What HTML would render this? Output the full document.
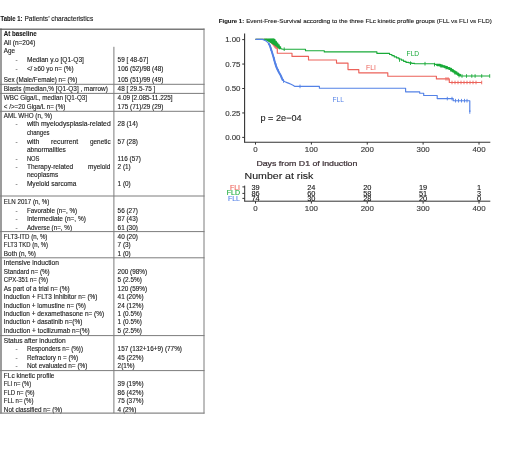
<!DOCTYPE html>
<html><head><meta charset="utf-8"><style>
html,body{margin:0;padding:0;background:#fff;}
body{width:520px;height:453px;overflow:hidden;}
svg{display:block;font-family:"Liberation Sans",sans-serif;will-change:transform;filter:blur(0.3px);}
</style></head><body>
<svg width="520" height="453" viewBox="0 0 520 453">
<text x="0.6" y="20.8" font-size="6.3" font-weight="bold" fill="#1a1a1a" stroke="#1a1a1a" stroke-width="0.12" textLength="21.8" lengthAdjust="spacingAndGlyphs">Table 1:</text>
<text x="24.4" y="20.8" font-size="6.3" fill="#1a1a1a" stroke="#1a1a1a" stroke-width="0.12" textLength="68.8" lengthAdjust="spacingAndGlyphs">Patients’ characteristics</text>
<text x="3.8" y="35.7" font-size="6.4" font-weight="bold" fill="#1a1a1a" stroke="#1a1a1a" stroke-width="0.12" textLength="32.8" lengthAdjust="spacingAndGlyphs">At baseline</text>
<text x="3.8" y="44.6" font-size="6.4" fill="#1a1a1a" stroke="#1a1a1a" stroke-width="0.12" textLength="31.5" lengthAdjust="spacingAndGlyphs">All (n=204)</text>
<text x="3.8" y="53.4" font-size="6.4" fill="#1a1a1a" stroke="#1a1a1a" stroke-width="0.12" textLength="11.2" lengthAdjust="spacingAndGlyphs">Age</text>
<text x="16.6" y="62.2" font-size="6.4" fill="#555" stroke="#555" stroke-width="0.12" text-anchor="middle" textLength="2.13" lengthAdjust="spacingAndGlyphs">-</text>
<text x="26.9" y="62.4" font-size="6.4" fill="#1a1a1a" stroke="#1a1a1a" stroke-width="0.12" textLength="57.0" lengthAdjust="spacingAndGlyphs">Median y.o [Q1-Q3]</text>
<text x="117.6" y="62.4" font-size="6.4" fill="#1a1a1a" stroke="#1a1a1a" stroke-width="0.12" textLength="30.6" lengthAdjust="spacingAndGlyphs">59 [ 48-67]</text>
<text x="16.6" y="70.7" font-size="6.4" fill="#555" stroke="#555" stroke-width="0.12" text-anchor="middle" textLength="2.13" lengthAdjust="spacingAndGlyphs">-</text>
<text x="26.9" y="70.9" font-size="6.4" fill="#1a1a1a" stroke="#1a1a1a" stroke-width="0.12" textLength="46.6" lengthAdjust="spacingAndGlyphs">&lt;/ ≥60 yo n= (%)</text>
<text x="117.6" y="70.9" font-size="6.4" fill="#1a1a1a" stroke="#1a1a1a" stroke-width="0.12" textLength="45.89" lengthAdjust="spacingAndGlyphs">106 (52)/98 (48)</text>
<text x="3.8" y="82.1" font-size="6.4" fill="#1a1a1a" stroke="#1a1a1a" stroke-width="0.12" textLength="73.5" lengthAdjust="spacingAndGlyphs">Sex (Male/Female) n= (%)</text>
<text x="117.6" y="82.1" font-size="6.4" fill="#1a1a1a" stroke="#1a1a1a" stroke-width="0.12" textLength="45.89" lengthAdjust="spacingAndGlyphs">105 (51)/99 (49)</text>
<text x="3.8" y="91.3" font-size="6.4" fill="#1a1a1a" stroke="#1a1a1a" stroke-width="0.12" textLength="104.0" lengthAdjust="spacingAndGlyphs">Blasts (median,% [Q1-Q3] , marrow)</text>
<text x="117.6" y="91.3" font-size="6.4" fill="#1a1a1a" stroke="#1a1a1a" stroke-width="0.12" textLength="37.72" lengthAdjust="spacingAndGlyphs">48 [ 29.5-75 ]</text>
<text x="3.8" y="100.3" font-size="6.4" fill="#1a1a1a" stroke="#1a1a1a" stroke-width="0.12" textLength="83.3" lengthAdjust="spacingAndGlyphs">WBC Giga/L, median [Q1-Q3]</text>
<text x="117.6" y="100.3" font-size="6.4" fill="#1a1a1a" stroke="#1a1a1a" stroke-width="0.12" textLength="55.04" lengthAdjust="spacingAndGlyphs">4.09 [2.085-11.225]</text>
<text x="3.8" y="109.0" font-size="6.4" fill="#1a1a1a" stroke="#1a1a1a" stroke-width="0.12" textLength="61.5" lengthAdjust="spacingAndGlyphs">&lt; /&gt;=20 Giga/L n= (%)</text>
<text x="117.6" y="109.0" font-size="6.4" fill="#1a1a1a" stroke="#1a1a1a" stroke-width="0.12" textLength="45.89" lengthAdjust="spacingAndGlyphs">175 (71)/29 (29)</text>
<text x="3.8" y="118.1" font-size="6.4" fill="#1a1a1a" stroke="#1a1a1a" stroke-width="0.12" textLength="48.3" lengthAdjust="spacingAndGlyphs">AML WHO (n, %)</text>
<text x="16.6" y="126.2" font-size="6.4" fill="#555" stroke="#555" stroke-width="0.12" text-anchor="middle" textLength="2.13" lengthAdjust="spacingAndGlyphs">-</text>
<text x="26.9" y="126.4" font-size="6.4" fill="#1a1a1a" stroke="#1a1a1a" stroke-width="0.12" textLength="83.8" lengthAdjust="spacingAndGlyphs">with myelodysplasia-related</text>
<text x="117.6" y="126.4" font-size="6.4" fill="#1a1a1a" stroke="#1a1a1a" stroke-width="0.12" textLength="20.28" lengthAdjust="spacingAndGlyphs">28 (14)</text>
<text x="26.9" y="134.8" font-size="6.4" fill="#1a1a1a" stroke="#1a1a1a" stroke-width="0.12" textLength="22.6" lengthAdjust="spacingAndGlyphs">changes</text>
<text x="16.6" y="143.6" font-size="6.4" fill="#555" stroke="#555" stroke-width="0.12" text-anchor="middle" textLength="2.13" lengthAdjust="spacingAndGlyphs">-</text>
<text x="26.9" y="143.8" font-size="6.4" fill="#1a1a1a" stroke="#1a1a1a" stroke-width="0.12" textLength="12.4" lengthAdjust="spacingAndGlyphs">with</text>
<text x="51.1" y="143.8" font-size="6.4" fill="#1a1a1a" stroke="#1a1a1a" stroke-width="0.12" textLength="27.1" lengthAdjust="spacingAndGlyphs">recurrent</text>
<text x="90.0" y="143.8" font-size="6.4" fill="#1a1a1a" stroke="#1a1a1a" stroke-width="0.12" textLength="20.6" lengthAdjust="spacingAndGlyphs">genetic</text>
<text x="117.6" y="143.8" font-size="6.4" fill="#1a1a1a" stroke="#1a1a1a" stroke-width="0.12" textLength="20.28" lengthAdjust="spacingAndGlyphs">57 (28)</text>
<text x="26.9" y="151.6" font-size="6.4" fill="#1a1a1a" stroke="#1a1a1a" stroke-width="0.12" textLength="39.0" lengthAdjust="spacingAndGlyphs">abnormalities</text>
<text x="16.6" y="160.6" font-size="6.4" fill="#555" stroke="#555" stroke-width="0.12" text-anchor="middle" textLength="2.13" lengthAdjust="spacingAndGlyphs">-</text>
<text x="26.9" y="160.8" font-size="6.4" fill="#1a1a1a" stroke="#1a1a1a" stroke-width="0.12" textLength="12.6" lengthAdjust="spacingAndGlyphs">NOS</text>
<text x="117.6" y="160.8" font-size="6.4" fill="#1a1a1a" stroke="#1a1a1a" stroke-width="0.12" textLength="23.36" lengthAdjust="spacingAndGlyphs">116 (57)</text>
<text x="16.6" y="169.1" font-size="6.4" fill="#555" stroke="#555" stroke-width="0.12" text-anchor="middle" textLength="2.13" lengthAdjust="spacingAndGlyphs">-</text>
<text x="26.9" y="169.3" font-size="6.4" fill="#1a1a1a" stroke="#1a1a1a" stroke-width="0.12" textLength="46.3" lengthAdjust="spacingAndGlyphs">Therapy-related</text>
<text x="88.0" y="169.3" font-size="6.4" fill="#1a1a1a" stroke="#1a1a1a" stroke-width="0.12" textLength="22.4" lengthAdjust="spacingAndGlyphs">myeloid</text>
<text x="117.6" y="169.3" font-size="6.4" fill="#1a1a1a" stroke="#1a1a1a" stroke-width="0.12" textLength="13.16" lengthAdjust="spacingAndGlyphs">2 (1)</text>
<text x="26.9" y="176.9" font-size="6.4" fill="#1a1a1a" stroke="#1a1a1a" stroke-width="0.12" textLength="31.3" lengthAdjust="spacingAndGlyphs">neoplasms</text>
<text x="16.6" y="186.0" font-size="6.4" fill="#555" stroke="#555" stroke-width="0.12" text-anchor="middle" textLength="2.13" lengthAdjust="spacingAndGlyphs">-</text>
<text x="26.9" y="186.2" font-size="6.4" fill="#1a1a1a" stroke="#1a1a1a" stroke-width="0.12" textLength="49.6" lengthAdjust="spacingAndGlyphs">Myeloid sarcoma</text>
<text x="117.6" y="186.2" font-size="6.4" fill="#1a1a1a" stroke="#1a1a1a" stroke-width="0.12" textLength="13.16" lengthAdjust="spacingAndGlyphs">1 (0)</text>
<text x="3.8" y="203.9" font-size="6.4" fill="#1a1a1a" stroke="#1a1a1a" stroke-width="0.12" textLength="45.5" lengthAdjust="spacingAndGlyphs">ELN 2017 (n, %)</text>
<text x="16.6" y="212.5" font-size="6.4" fill="#555" stroke="#555" stroke-width="0.12" text-anchor="middle" textLength="2.13" lengthAdjust="spacingAndGlyphs">-</text>
<text x="26.9" y="212.7" font-size="6.4" fill="#1a1a1a" stroke="#1a1a1a" stroke-width="0.12" textLength="50.3" lengthAdjust="spacingAndGlyphs">Favorable (n=, %)</text>
<text x="117.6" y="212.7" font-size="6.4" fill="#1a1a1a" stroke="#1a1a1a" stroke-width="0.12" textLength="20.28" lengthAdjust="spacingAndGlyphs">56 (27)</text>
<text x="16.6" y="221.2" font-size="6.4" fill="#555" stroke="#555" stroke-width="0.12" text-anchor="middle" textLength="2.13" lengthAdjust="spacingAndGlyphs">-</text>
<text x="26.9" y="221.4" font-size="6.4" fill="#1a1a1a" stroke="#1a1a1a" stroke-width="0.12" textLength="59.0" lengthAdjust="spacingAndGlyphs">Intermediate (n=, %)</text>
<text x="117.6" y="221.4" font-size="6.4" fill="#1a1a1a" stroke="#1a1a1a" stroke-width="0.12" textLength="20.28" lengthAdjust="spacingAndGlyphs">87 (43)</text>
<text x="16.6" y="229.5" font-size="6.4" fill="#555" stroke="#555" stroke-width="0.12" text-anchor="middle" textLength="2.13" lengthAdjust="spacingAndGlyphs">-</text>
<text x="26.9" y="229.7" font-size="6.4" fill="#1a1a1a" stroke="#1a1a1a" stroke-width="0.12" textLength="45.1" lengthAdjust="spacingAndGlyphs">Adverse (n=, %)</text>
<text x="117.6" y="229.7" font-size="6.4" fill="#1a1a1a" stroke="#1a1a1a" stroke-width="0.12" textLength="20.28" lengthAdjust="spacingAndGlyphs">61 (30)</text>
<text x="3.8" y="238.7" font-size="6.4" fill="#1a1a1a" stroke="#1a1a1a" stroke-width="0.12" textLength="43.6" lengthAdjust="spacingAndGlyphs">FLT3-ITD (n, %)</text>
<text x="117.6" y="238.7" font-size="6.4" fill="#1a1a1a" stroke="#1a1a1a" stroke-width="0.12" textLength="20.28" lengthAdjust="spacingAndGlyphs">40 (20)</text>
<text x="3.8" y="247.3" font-size="6.4" fill="#1a1a1a" stroke="#1a1a1a" stroke-width="0.12" textLength="44.2" lengthAdjust="spacingAndGlyphs">FLT3 TKD (n, %)</text>
<text x="117.6" y="247.3" font-size="6.4" fill="#1a1a1a" stroke="#1a1a1a" stroke-width="0.12" textLength="13.16" lengthAdjust="spacingAndGlyphs">7 (3)</text>
<text x="3.8" y="255.6" font-size="6.4" fill="#1a1a1a" stroke="#1a1a1a" stroke-width="0.12" textLength="32.1" lengthAdjust="spacingAndGlyphs">Both (n, %)</text>
<text x="117.6" y="255.6" font-size="6.4" fill="#1a1a1a" stroke="#1a1a1a" stroke-width="0.12" textLength="13.16" lengthAdjust="spacingAndGlyphs">1 (0)</text>
<text x="3.8" y="265.1" font-size="6.4" fill="#1a1a1a" stroke="#1a1a1a" stroke-width="0.12" textLength="55.2" lengthAdjust="spacingAndGlyphs">Intensive induction</text>
<text x="3.8" y="273.5" font-size="6.4" fill="#1a1a1a" stroke="#1a1a1a" stroke-width="0.12" textLength="45.9" lengthAdjust="spacingAndGlyphs">Standard n= (%)</text>
<text x="117.6" y="273.5" font-size="6.4" fill="#1a1a1a" stroke="#1a1a1a" stroke-width="0.12" textLength="29.53" lengthAdjust="spacingAndGlyphs">200 (98%)</text>
<text x="3.8" y="282.1" font-size="6.4" fill="#1a1a1a" stroke="#1a1a1a" stroke-width="0.12" textLength="44.2" lengthAdjust="spacingAndGlyphs">CPX-351 n= (%)</text>
<text x="117.6" y="282.1" font-size="6.4" fill="#1a1a1a" stroke="#1a1a1a" stroke-width="0.12" textLength="24.19" lengthAdjust="spacingAndGlyphs">5 (2.5%)</text>
<text x="3.8" y="290.6" font-size="6.4" fill="#1a1a1a" stroke="#1a1a1a" stroke-width="0.12" textLength="65.8" lengthAdjust="spacingAndGlyphs">As part of a trial n= (%)</text>
<text x="117.6" y="290.6" font-size="6.4" fill="#1a1a1a" stroke="#1a1a1a" stroke-width="0.12" textLength="29.53" lengthAdjust="spacingAndGlyphs">120 (59%)</text>
<text x="3.8" y="299.2" font-size="6.4" fill="#1a1a1a" stroke="#1a1a1a" stroke-width="0.12" textLength="93.6" lengthAdjust="spacingAndGlyphs">Induction + FLT3 Inhibitor n= (%)</text>
<text x="117.6" y="299.2" font-size="6.4" fill="#1a1a1a" stroke="#1a1a1a" stroke-width="0.12" textLength="25.97" lengthAdjust="spacingAndGlyphs">41 (20%)</text>
<text x="3.8" y="307.6" font-size="6.4" fill="#1a1a1a" stroke="#1a1a1a" stroke-width="0.12" textLength="82.1" lengthAdjust="spacingAndGlyphs">Induction + lomustine n= (%)</text>
<text x="117.6" y="307.6" font-size="6.4" fill="#1a1a1a" stroke="#1a1a1a" stroke-width="0.12" textLength="25.97" lengthAdjust="spacingAndGlyphs">24 (12%)</text>
<text x="3.8" y="316.0" font-size="6.4" fill="#1a1a1a" stroke="#1a1a1a" stroke-width="0.12" textLength="100.3" lengthAdjust="spacingAndGlyphs">Induction + dexamethasone n= (%)</text>
<text x="117.6" y="316.0" font-size="6.4" fill="#1a1a1a" stroke="#1a1a1a" stroke-width="0.12" textLength="24.19" lengthAdjust="spacingAndGlyphs">1 (0.5%)</text>
<text x="3.8" y="324.4" font-size="6.4" fill="#1a1a1a" stroke="#1a1a1a" stroke-width="0.12" textLength="78.6" lengthAdjust="spacingAndGlyphs">Induction + dasatinib n=(%)</text>
<text x="117.6" y="324.4" font-size="6.4" fill="#1a1a1a" stroke="#1a1a1a" stroke-width="0.12" textLength="24.19" lengthAdjust="spacingAndGlyphs">1 (0.5%)</text>
<text x="3.8" y="332.9" font-size="6.4" fill="#1a1a1a" stroke="#1a1a1a" stroke-width="0.12" textLength="85.9" lengthAdjust="spacingAndGlyphs">Induction + tocilizumab n=(%)</text>
<text x="117.6" y="332.9" font-size="6.4" fill="#1a1a1a" stroke="#1a1a1a" stroke-width="0.12" textLength="24.19" lengthAdjust="spacingAndGlyphs">5 (2.5%)</text>
<text x="3.8" y="342.5" font-size="6.4" fill="#1a1a1a" stroke="#1a1a1a" stroke-width="0.12" textLength="61.9" lengthAdjust="spacingAndGlyphs">Status after induction</text>
<text x="16.6" y="351.1" font-size="6.4" fill="#555" stroke="#555" stroke-width="0.12" text-anchor="middle" textLength="2.13" lengthAdjust="spacingAndGlyphs">-</text>
<text x="26.9" y="351.3" font-size="6.4" fill="#1a1a1a" stroke="#1a1a1a" stroke-width="0.12" textLength="56.1" lengthAdjust="spacingAndGlyphs">Responders n= (%))</text>
<text x="117.6" y="351.3" font-size="6.4" fill="#1a1a1a" stroke="#1a1a1a" stroke-width="0.12" textLength="64.4" lengthAdjust="spacingAndGlyphs">157 (132+16+9) (77%)</text>
<text x="16.6" y="359.7" font-size="6.4" fill="#555" stroke="#555" stroke-width="0.12" text-anchor="middle" textLength="2.13" lengthAdjust="spacingAndGlyphs">-</text>
<text x="26.9" y="359.9" font-size="6.4" fill="#1a1a1a" stroke="#1a1a1a" stroke-width="0.12" textLength="51.3" lengthAdjust="spacingAndGlyphs">Refractory n = (%)</text>
<text x="117.6" y="359.9" font-size="6.4" fill="#1a1a1a" stroke="#1a1a1a" stroke-width="0.12" textLength="25.97" lengthAdjust="spacingAndGlyphs">45 (22%)</text>
<text x="16.6" y="368.2" font-size="6.4" fill="#555" stroke="#555" stroke-width="0.12" text-anchor="middle" textLength="2.13" lengthAdjust="spacingAndGlyphs">-</text>
<text x="26.9" y="368.4" font-size="6.4" fill="#1a1a1a" stroke="#1a1a1a" stroke-width="0.12" textLength="60.5" lengthAdjust="spacingAndGlyphs">Not evaluated n= (%)</text>
<text x="117.6" y="368.4" font-size="6.4" fill="#1a1a1a" stroke="#1a1a1a" stroke-width="0.12" textLength="17.07" lengthAdjust="spacingAndGlyphs">2(1%)</text>
<text x="3.8" y="377.7" font-size="6.4" fill="#1a1a1a" stroke="#1a1a1a" stroke-width="0.12" textLength="50.7" lengthAdjust="spacingAndGlyphs">FLc kinetic profile</text>
<text x="3.8" y="386.3" font-size="6.4" fill="#1a1a1a" stroke="#1a1a1a" stroke-width="0.12" textLength="27.3" lengthAdjust="spacingAndGlyphs">FLI n= (%)</text>
<text x="117.6" y="386.3" font-size="6.4" fill="#1a1a1a" stroke="#1a1a1a" stroke-width="0.12" textLength="25.97" lengthAdjust="spacingAndGlyphs">39 (19%)</text>
<text x="3.8" y="394.6" font-size="6.4" fill="#1a1a1a" stroke="#1a1a1a" stroke-width="0.12" textLength="30.7" lengthAdjust="spacingAndGlyphs">FLD n= (%)</text>
<text x="117.6" y="394.6" font-size="6.4" fill="#1a1a1a" stroke="#1a1a1a" stroke-width="0.12" textLength="25.97" lengthAdjust="spacingAndGlyphs">86 (42%)</text>
<text x="3.8" y="403.2" font-size="6.4" fill="#1a1a1a" stroke="#1a1a1a" stroke-width="0.12" textLength="29.6" lengthAdjust="spacingAndGlyphs">FLL n= (%)</text>
<text x="117.6" y="403.2" font-size="6.4" fill="#1a1a1a" stroke="#1a1a1a" stroke-width="0.12" textLength="25.97" lengthAdjust="spacingAndGlyphs">75 (37%)</text>
<text x="3.8" y="411.6" font-size="6.4" fill="#1a1a1a" stroke="#1a1a1a" stroke-width="0.12" textLength="58.4" lengthAdjust="spacingAndGlyphs">Not classified n= (%)</text>
<text x="117.6" y="411.6" font-size="6.4" fill="#1a1a1a" stroke="#1a1a1a" stroke-width="0.12" textLength="18.85" lengthAdjust="spacingAndGlyphs">4 (2%)</text>
<line x1="0" y1="29.2" x2="204.5" y2="29.2" stroke="#7a7a7a" stroke-width="1.5"/>
<line x1="1.0" y1="28.5" x2="1.0" y2="413.6" stroke="#5a5a5a" stroke-width="1.2"/>
<line x1="204.0" y1="28.5" x2="204.0" y2="413.6" stroke="#7c7c7c" stroke-width="1"/>
<line x1="0" y1="413.1" x2="204.5" y2="413.1" stroke="#888" stroke-width="1.3"/>
<line x1="113.9" y1="46.8" x2="113.9" y2="413.1" stroke="#7c7c7c" stroke-width="1"/>
<line x1="0" y1="84.3" x2="204.5" y2="84.3" stroke="#7c7c7c" stroke-width="1"/>
<line x1="0" y1="93.4" x2="204.5" y2="93.4" stroke="#7c7c7c" stroke-width="1"/>
<line x1="0" y1="111.3" x2="204.5" y2="111.3" stroke="#7c7c7c" stroke-width="1"/>
<line x1="0" y1="196.0" x2="204.5" y2="196.0" stroke="#7c7c7c" stroke-width="1"/>
<line x1="0" y1="231.6" x2="204.5" y2="231.6" stroke="#7c7c7c" stroke-width="1"/>
<line x1="0" y1="257.8" x2="204.5" y2="257.8" stroke="#7c7c7c" stroke-width="1"/>
<line x1="0" y1="335.6" x2="204.5" y2="335.6" stroke="#7c7c7c" stroke-width="1"/>
<line x1="0" y1="370.6" x2="204.5" y2="370.6" stroke="#7c7c7c" stroke-width="1"/>
<text x="218.8" y="23.4" font-size="6.2" font-weight="bold" fill="#1a1a1a" stroke="#1a1a1a" stroke-width="0.12" textLength="25.4" lengthAdjust="spacingAndGlyphs">Figure 1:</text>
<text x="246.2" y="23.4" font-size="6.2" fill="#1a1a1a" stroke="#1a1a1a" stroke-width="0.12" textLength="245.6" lengthAdjust="spacingAndGlyphs">Event-Free-Survival according to the three FLc kinetic profile groups (FLL vs FLI vs FLD)</text>
<line x1="244.6" y1="33.5" x2="244.6" y2="142.3" stroke="#333333" stroke-width="1.1"/>
<line x1="244.0" y1="142.2" x2="490.3" y2="142.2" stroke="#333333" stroke-width="1.1"/>
<line x1="242.2" y1="39.6" x2="244.6" y2="39.6" stroke="#333333" stroke-width="1"/>
<text x="240.5" y="42.3" font-size="7.9" fill="#3a3a3a" stroke="#3a3a3a" stroke-width="0.15" text-anchor="end">1.00</text>
<line x1="242.2" y1="64.05" x2="244.6" y2="64.05" stroke="#333333" stroke-width="1"/>
<text x="240.5" y="66.75" font-size="7.9" fill="#3a3a3a" stroke="#3a3a3a" stroke-width="0.15" text-anchor="end">0.75</text>
<line x1="242.2" y1="88.5" x2="244.6" y2="88.5" stroke="#333333" stroke-width="1"/>
<text x="240.5" y="91.2" font-size="7.9" fill="#3a3a3a" stroke="#3a3a3a" stroke-width="0.15" text-anchor="end">0.50</text>
<line x1="242.2" y1="112.95" x2="244.6" y2="112.95" stroke="#333333" stroke-width="1"/>
<text x="240.5" y="115.65" font-size="7.9" fill="#3a3a3a" stroke="#3a3a3a" stroke-width="0.15" text-anchor="end">0.25</text>
<line x1="242.2" y1="137.4" x2="244.6" y2="137.4" stroke="#333333" stroke-width="1"/>
<text x="240.5" y="140.1" font-size="7.9" fill="#3a3a3a" stroke="#3a3a3a" stroke-width="0.15" text-anchor="end">0.00</text>
<line x1="255.5" y1="142.2" x2="255.5" y2="144.6" stroke="#333333" stroke-width="1"/>
<text x="255.5" y="151.6" font-size="7.9" fill="#3a3a3a" stroke="#3a3a3a" stroke-width="0.15" text-anchor="middle">0</text>
<line x1="311.38" y1="142.2" x2="311.38" y2="144.6" stroke="#333333" stroke-width="1"/>
<text x="311.38" y="151.6" font-size="7.9" fill="#3a3a3a" stroke="#3a3a3a" stroke-width="0.15" text-anchor="middle">100</text>
<line x1="367.25" y1="142.2" x2="367.25" y2="144.6" stroke="#333333" stroke-width="1"/>
<text x="367.25" y="151.6" font-size="7.9" fill="#3a3a3a" stroke="#3a3a3a" stroke-width="0.15" text-anchor="middle">200</text>
<line x1="423.12" y1="142.2" x2="423.12" y2="144.6" stroke="#333333" stroke-width="1"/>
<text x="423.12" y="151.6" font-size="7.9" fill="#3a3a3a" stroke="#3a3a3a" stroke-width="0.15" text-anchor="middle">300</text>
<line x1="479.0" y1="142.2" x2="479.0" y2="144.6" stroke="#333333" stroke-width="1"/>
<text x="479.0" y="151.6" font-size="7.9" fill="#3a3a3a" stroke="#3a3a3a" stroke-width="0.15" text-anchor="middle">400</text>
<text x="256.4" y="166.0" font-size="7.2" fill="#3d3036" stroke="#3d3036" stroke-width="0.22" textLength="101.0" lengthAdjust="spacingAndGlyphs">Days from D1 of induction</text>
<text x="260.4" y="121.1" font-size="9.0" fill="#222222" stroke="#222222" stroke-width="0.12" textLength="41.2" lengthAdjust="spacingAndGlyphs">p = 2e−04</text>
<text x="244.6" y="179.3" font-size="9.6" fill="#1a1a1a" stroke="#1a1a1a" stroke-width="0.12" textLength="68.7" lengthAdjust="spacingAndGlyphs">Number at risk</text>
<line x1="244.7" y1="185.6" x2="244.7" y2="201.3" stroke="#333333" stroke-width="1"/>
<line x1="244.2" y1="201.2" x2="490.3" y2="201.2" stroke="#333333" stroke-width="1"/>
<line x1="242.4" y1="186.9" x2="244.7" y2="186.9" stroke="#333333" stroke-width="1"/>
<line x1="242.4" y1="193.4" x2="244.7" y2="193.4" stroke="#333333" stroke-width="1"/>
<line x1="242.4" y1="198.4" x2="244.7" y2="198.4" stroke="#333333" stroke-width="1"/>
<line x1="255.5" y1="201.2" x2="255.5" y2="203.6" stroke="#333333" stroke-width="1"/>
<text x="255.5" y="210.5" font-size="7.9" fill="#3a3a3a" stroke="#3a3a3a" stroke-width="0.15" text-anchor="middle">0</text>
<line x1="311.38" y1="201.2" x2="311.38" y2="203.6" stroke="#333333" stroke-width="1"/>
<text x="311.38" y="210.5" font-size="7.9" fill="#3a3a3a" stroke="#3a3a3a" stroke-width="0.15" text-anchor="middle">100</text>
<line x1="367.25" y1="201.2" x2="367.25" y2="203.6" stroke="#333333" stroke-width="1"/>
<text x="367.25" y="210.5" font-size="7.9" fill="#3a3a3a" stroke="#3a3a3a" stroke-width="0.15" text-anchor="middle">200</text>
<line x1="423.12" y1="201.2" x2="423.12" y2="203.6" stroke="#333333" stroke-width="1"/>
<text x="423.12" y="210.5" font-size="7.9" fill="#3a3a3a" stroke="#3a3a3a" stroke-width="0.15" text-anchor="middle">300</text>
<line x1="479.0" y1="201.2" x2="479.0" y2="203.6" stroke="#333333" stroke-width="1"/>
<text x="479.0" y="210.5" font-size="7.9" fill="#3a3a3a" stroke="#3a3a3a" stroke-width="0.15" text-anchor="middle">400</text>
<text x="240.0" y="190.2" font-size="7.0" fill="#EC625A" stroke="#EC625A" stroke-width="0.12" text-anchor="end">FLI</text>
<text x="240.0" y="195.4" font-size="7.0" fill="#18AA38" stroke="#18AA38" stroke-width="0.12" text-anchor="end">FLD</text>
<text x="240.0" y="200.7" font-size="7.0" fill="#5482E6" stroke="#5482E6" stroke-width="0.12" text-anchor="end">FLL</text>
<text x="255.5" y="190.4" font-size="7.4" fill="#111111" stroke="#111111" stroke-width="0.1" text-anchor="middle">39</text>
<text x="311.38" y="190.4" font-size="7.4" fill="#111111" stroke="#111111" stroke-width="0.1" text-anchor="middle">24</text>
<text x="367.25" y="190.4" font-size="7.4" fill="#111111" stroke="#111111" stroke-width="0.1" text-anchor="middle">20</text>
<text x="423.12" y="190.4" font-size="7.4" fill="#111111" stroke="#111111" stroke-width="0.1" text-anchor="middle">19</text>
<text x="479.0" y="190.4" font-size="7.4" fill="#111111" stroke="#111111" stroke-width="0.1" text-anchor="middle">1</text>
<text x="255.5" y="195.5" font-size="7.4" fill="#111111" stroke="#111111" stroke-width="0.1" text-anchor="middle">86</text>
<text x="311.38" y="195.5" font-size="7.4" fill="#111111" stroke="#111111" stroke-width="0.1" text-anchor="middle">60</text>
<text x="367.25" y="195.5" font-size="7.4" fill="#111111" stroke="#111111" stroke-width="0.1" text-anchor="middle">58</text>
<text x="423.12" y="195.5" font-size="7.4" fill="#111111" stroke="#111111" stroke-width="0.1" text-anchor="middle">51</text>
<text x="479.0" y="195.5" font-size="7.4" fill="#111111" stroke="#111111" stroke-width="0.1" text-anchor="middle">3</text>
<text x="255.5" y="200.8" font-size="7.4" fill="#111111" stroke="#111111" stroke-width="0.1" text-anchor="middle">74</text>
<text x="311.38" y="200.8" font-size="7.4" fill="#111111" stroke="#111111" stroke-width="0.1" text-anchor="middle">30</text>
<text x="367.25" y="200.8" font-size="7.4" fill="#111111" stroke="#111111" stroke-width="0.1" text-anchor="middle">28</text>
<text x="423.12" y="200.8" font-size="7.4" fill="#111111" stroke="#111111" stroke-width="0.1" text-anchor="middle">20</text>
<text x="479.0" y="200.8" font-size="7.4" fill="#111111" stroke="#111111" stroke-width="0.1" text-anchor="middle">0</text>
<text x="366.0" y="70.4" font-size="7.2" fill="#EC625A" textLength="9.8" lengthAdjust="spacingAndGlyphs">FLI</text>
<text x="406.6" y="56.2" font-size="7.2" fill="#18AA38" textLength="12.6" lengthAdjust="spacingAndGlyphs">FLD</text>
<text x="332.5" y="101.6" font-size="7.2" fill="#5482E6" textLength="11.4" lengthAdjust="spacingAndGlyphs">FLL</text>
<path d="M255.5,39.4 L267.0,39.4 L269.0,40.5 L271.0,42.5 L273.0,44.5 L275.0,46.3 L277.3,47.8 L277.3,53.2 L292.0,53.2 L292.0,56.4 L308.5,56.4 L308.5,60.0 L336.5,60.0 L336.5,63.1 L348.0,63.1 L348.0,69.6 L358.8,69.6 L358.8,72.8 L387.8,72.8 L387.8,76.2 L436.4,76.2 L436.4,78.9 L449.3,78.9 L449.3,82.5 L481.7,82.5" fill="none" stroke="#EC625A" stroke-width="1.15" stroke-linejoin="round"/>
<path d="M255.5,39.4 L264.0,39.4 L273.5,39.4 L274.9,39.4 L274.9,41.2 L276.3,41.2 L276.3,43.1 L277.8,43.1 L277.8,44.9 L279.2,44.9 L279.2,46.8 L280.6,46.8 L280.6,48.6 L283.0,49.2 L305.5,49.2 L305.5,50.7 L324.3,50.7 L324.3,51.9 L376.9,51.9 L376.9,53.4 L387.2,53.4 L389.6,53.4 L389.6,54.5 L391.9,54.5 L391.9,55.6 L394.2,55.6 L394.2,56.8 L396.6,56.8 L396.6,57.9 L398.9,57.9 L398.9,59.0 L401.3,59.0 L401.3,60.1 L403.6,60.1 L403.6,61.3 L406.0,61.3 L406.0,62.4 L408.9,62.4 L408.9,62.8 L411.7,62.8 L411.7,63.3 L414.6,63.3 L414.6,63.7 L431.6,63.7 L434.4,63.7 L434.4,64.3 L437.2,64.3 L437.2,65.0 L440.0,65.0 L440.0,65.6 L442.3,65.6 L442.3,66.4 L444.6,66.4 L444.6,67.2 L447.0,67.2 L447.0,68.1 L449.3,68.1 L449.3,68.9 L451.1,68.9 L451.1,70.1 L452.8,70.1 L452.8,71.3 L454.6,71.3 L454.6,72.5 L456.4,72.5 L456.4,73.6 L458.1,73.6 L458.1,74.8 L459.9,74.8 L459.9,76.0 L489.7,76.0" fill="none" stroke="#18AA38" stroke-width="1.15" stroke-linejoin="round"/>
<path d="M437.2,64.3 L437.2,65.0 L440.0,65.0 L440.0,65.6 L442.3,65.6 L442.3,66.4 L444.6,66.4 L444.6,67.2 L447.0,67.2 L447.0,68.1 L449.3,68.1 L449.3,68.9 L451.1,68.9 L451.1,70.1 L452.8,70.1 L452.8,71.3 L454.6,71.3 L454.6,72.5 L456.4,72.5 L456.4,73.6 L458.1,73.6 L458.1,74.8 L459.9,74.8 L459.9,76.0" fill="none" stroke="#18AA38" stroke-width="2.3" stroke-linejoin="round"/>
<path d="M264,38.7 L273.8,38.5 L281,48.0 L279.5,49.6 L276,46.5 L271.5,43.6 L266.5,40.8 L264,40.3 Z" fill="#18AA38"/>
<path d="M272.5,45 L276.5,47.5 L277.5,49.5 L275,48.5 Z" fill="#EC625A" opacity="0.8"/>
<path d="M255.5,39.4 L262.5,39.4 L264.5,40.2 L266.5,41.3 L268.5,43.2 L269.8,45.5 L270.8,48.5 L271.8,51.5 L272.7,54.5 L273.6,57.5 L274.4,60.5 L275.2,63.5 L276.2,66.5 L277.5,69.5 L279.0,72.5 L280.6,75.2 L282.0,78.5 L283.0,80.6 L285.0,81.8 L287.0,82.6 L289.0,83.4 L291.0,84.2 L293.0,85.2 L294.9,86.4 L319.4,86.4 L319.4,88.2 L405.6,88.2 L405.6,91.8 L419.7,91.8 L419.7,93.2 L423.7,93.2 L423.7,95.5 L437.2,95.5 L437.2,98.6 L453.2,98.6 L453.2,100.7 L469.8,100.7 L469.8,112.0" fill="none" stroke="#5482E6" stroke-width="1.15" stroke-linejoin="round"/>
<path d="M268.5,43.2 L269.8,45.5 L270.8,48.5 L271.8,51.5 L272.7,54.5 L273.6,57.5 L274.4,60.5 L275.2,63.5 L276.2,66.5 L277.5,69.5 L279.0,72.5 L280.6,75.2 L282.0,78.5 L283.0,80.6" fill="none" stroke="#5482E6" stroke-width="2.0" stroke-linejoin="round"/>
<line x1="466.5" y1="74.2" x2="466.5" y2="77.8" stroke="#18AA38" stroke-width="0.9"/>
<line x1="471.8" y1="74.2" x2="471.8" y2="77.8" stroke="#18AA38" stroke-width="0.9"/>
<line x1="475.1" y1="74.2" x2="475.1" y2="77.8" stroke="#18AA38" stroke-width="0.9"/>
<line x1="481.7" y1="74.2" x2="481.7" y2="77.8" stroke="#18AA38" stroke-width="0.9"/>
<line x1="489.7" y1="74.2" x2="489.7" y2="77.8" stroke="#18AA38" stroke-width="0.9"/>
<line x1="284.2" y1="47.4" x2="284.2" y2="51.0" stroke="#18AA38" stroke-width="0.9"/>
<line x1="399.5" y1="58.2" x2="399.5" y2="61.8" stroke="#18AA38" stroke-width="0.9"/>
<line x1="410.5" y1="61.4" x2="410.5" y2="65.0" stroke="#18AA38" stroke-width="0.9"/>
<line x1="425" y1="61.9" x2="425" y2="65.5" stroke="#18AA38" stroke-width="0.9"/>
<line x1="434.5" y1="62.8" x2="434.5" y2="66.4" stroke="#18AA38" stroke-width="0.9"/>
<line x1="441" y1="64.2" x2="441" y2="67.8" stroke="#18AA38" stroke-width="0.9"/>
<line x1="446" y1="65.8" x2="446" y2="69.4" stroke="#18AA38" stroke-width="0.9"/>
<line x1="451" y1="68.4" x2="451" y2="72.0" stroke="#18AA38" stroke-width="0.9"/>
<line x1="455" y1="71.1" x2="455" y2="74.7" stroke="#18AA38" stroke-width="0.9"/>
<line x1="459" y1="73.8" x2="459" y2="77.4" stroke="#18AA38" stroke-width="0.9"/>
<line x1="462" y1="74.2" x2="462" y2="77.8" stroke="#18AA38" stroke-width="0.9"/>
<line x1="446.0" y1="77.1" x2="446.0" y2="80.7" stroke="#EC625A" stroke-width="0.9"/>
<line x1="448.0" y1="77.1" x2="448.0" y2="80.7" stroke="#EC625A" stroke-width="0.9"/>
<line x1="452" y1="80.7" x2="452" y2="84.3" stroke="#EC625A" stroke-width="0.9"/>
<line x1="455" y1="80.7" x2="455" y2="84.3" stroke="#EC625A" stroke-width="0.9"/>
<line x1="458" y1="80.7" x2="458" y2="84.3" stroke="#EC625A" stroke-width="0.9"/>
<line x1="461" y1="80.7" x2="461" y2="84.3" stroke="#EC625A" stroke-width="0.9"/>
<line x1="464" y1="80.7" x2="464" y2="84.3" stroke="#EC625A" stroke-width="0.9"/>
<line x1="467" y1="80.7" x2="467" y2="84.3" stroke="#EC625A" stroke-width="0.9"/>
<line x1="470" y1="80.7" x2="470" y2="84.3" stroke="#EC625A" stroke-width="0.9"/>
<line x1="473" y1="80.7" x2="473" y2="84.3" stroke="#EC625A" stroke-width="0.9"/>
<line x1="476" y1="80.7" x2="476" y2="84.3" stroke="#EC625A" stroke-width="0.9"/>
<line x1="481.7" y1="80.7" x2="481.7" y2="84.3" stroke="#EC625A" stroke-width="0.9"/>
<line x1="300.0" y1="84.6" x2="300.0" y2="88.2" stroke="#5482E6" stroke-width="0.9"/>
<line x1="447.3" y1="96.8" x2="447.3" y2="100.4" stroke="#5482E6" stroke-width="0.9"/>
<line x1="452.0" y1="96.8" x2="452.0" y2="100.4" stroke="#5482E6" stroke-width="0.9"/>
<line x1="455.5" y1="98.9" x2="455.5" y2="102.5" stroke="#5482E6" stroke-width="0.9"/>
<line x1="458.5" y1="98.9" x2="458.5" y2="102.5" stroke="#5482E6" stroke-width="0.9"/>
<line x1="461.5" y1="98.9" x2="461.5" y2="102.5" stroke="#5482E6" stroke-width="0.9"/>
<line x1="464.5" y1="98.9" x2="464.5" y2="102.5" stroke="#5482E6" stroke-width="0.9"/>
<line x1="467.0" y1="98.9" x2="467.0" y2="102.5" stroke="#5482E6" stroke-width="0.9"/>
<line x1="469.8" y1="110.2" x2="469.8" y2="113.8" stroke="#5482E6" stroke-width="0.9"/>
<line x1="270.8" y1="47.2" x2="270.8" y2="50.8" stroke="#5482E6" stroke-width="0.9"/>
<line x1="272.5" y1="51.7" x2="272.5" y2="55.3" stroke="#5482E6" stroke-width="0.9"/>
<line x1="274.2" y1="57.2" x2="274.2" y2="60.8" stroke="#5482E6" stroke-width="0.9"/>
<line x1="276" y1="63.2" x2="276" y2="66.8" stroke="#5482E6" stroke-width="0.9"/>
<line x1="278.5" y1="69.2" x2="278.5" y2="72.8" stroke="#5482E6" stroke-width="0.9"/>
<line x1="283.5" y1="79.2" x2="283.5" y2="82.8" stroke="#5482E6" stroke-width="0.9"/>
</svg>
</body></html>
